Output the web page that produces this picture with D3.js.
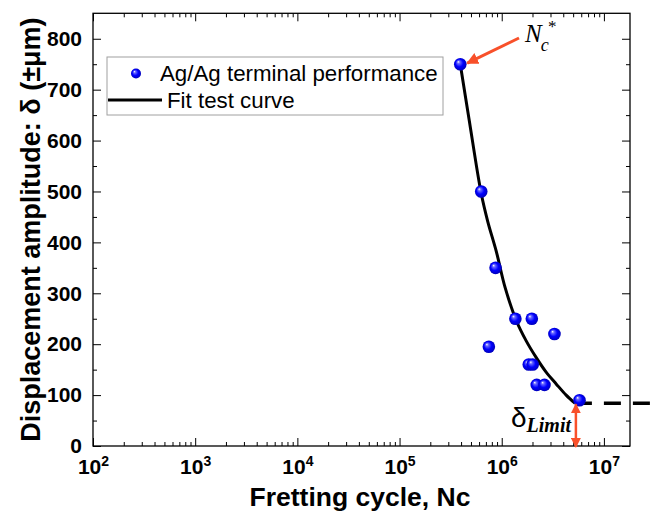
<!DOCTYPE html>
<html><head><meta charset="utf-8">
<script src="https://cdn.jsdelivr.net/npm/d3@7"></script>
<style>body{margin:0;background:#fff}svg{display:block}</style>
</head><body><svg id="c" width="658" height="520"></svg>
<script>
// ---- data ----
const pointCycles = [3.93e5, 6.3e5, 8.7e5, 1.36e6, 1.97e6, 3.28e6, 7.48e5, 1.84e6, 2.01e6, 2.2e6, 2.62e6, 5.77e6];
const pointAmplitudes = [750, 500, 350, 250, 250, 220, 195, 160, 160, 120, 120, 90];
const fitCycles = [3.93e5, 4.78e5, 6.3e5, 7.3e5, 8.83e5, 1.08e6, 1.39e6, 1.73e6, 2.17e6, 2.72e6, 3.41e6, 4.27e6, 5.2e6];
const fitAmplitudes = [750, 643, 496, 441, 383, 311, 246, 207, 174, 145, 122, 100, 84];
const limitAmplitude = 84;
const limitCycle = 5.2e6;
const xMajorTicks = [1e2, 1e3, 1e4, 1e5, 1e6, 1e7];
const xTickExponents = ["2", "3", "4", "5", "6", "7"];
const yMajorTicks = [0, 100, 200, 300, 400, 500, 600, 700, 800];
const yMinorTicks = [50, 150, 250, 350, 450, 550, 650, 750];
const legendLabels = ["Ag/Ag terminal performance", "Fit test curve"];
const xTitle = "Fretting cycle, Nc";
const yTitle = "Displacement amplitude: δ (±μm)";

const svg = d3.select("#c");
const L = 93, R = 630, T = 13.3, B = 446;
const x = d3.scaleLog().domain([100, 1.8e7]).range([L, R]);
const y = d3.scaleLinear().domain([0, 850]).range([B, T]);

const xMinor = [];
for (let d = 2; d <= 7; d++) for (let m = 2; m <= 9; m++) { const v = m * Math.pow(10, d); if (v <= 1.8e7) xMinor.push(v); }

const red = "#f8502a";
const defs = svg.append("defs");
const g = defs.append("radialGradient").attr("id", "ball").attr("cx", "0.5").attr("cy", "0.5").attr("r", "0.55").attr("fx", "0.33").attr("fy", "0.3");
g.append("stop").attr("offset", "0").attr("stop-color", "#ffffff");
g.append("stop").attr("offset", "0.2").attr("stop-color", "#6a6aff");
g.append("stop").attr("offset", "0.55").attr("stop-color", "#0000ff");
g.append("stop").attr("offset", "1").attr("stop-color", "#0000b0");
const mk = defs.append("marker").attr("id", "ah").attr("viewBox", "0 0 10 10").attr("refX", 9).attr("refY", 5)
  .attr("markerWidth", 4).attr("markerHeight", 4).attr("markerUnits", "strokeWidth").attr("orient", "auto-start-reverse");
mk.append("path").attr("d", "M0,0L10,5L0,10z").attr("fill", red);

function styleAxis(sel) {
  sel.selectAll(".domain").remove();
  sel.selectAll("line").attr("stroke", "#000").attr("stroke-width", 1);
  sel.selectAll("text").attr("font-family", "'Liberation Sans', Arial, sans-serif").attr("font-weight", "bold").attr("font-size", 21).attr("fill", "#000");
}

// minor ticks
svg.append("g").attr("transform", `translate(0,${B})`).call(d3.axisBottom(x).tickValues(xMinor).tickSizeInner(-4).tickSizeOuter(0).tickFormat("")).call(styleAxis);
svg.append("g").attr("transform", `translate(0,${T})`).call(d3.axisTop(x).tickValues(xMinor).tickSizeInner(-4).tickSizeOuter(0).tickFormat("")).call(styleAxis);
svg.append("g").attr("transform", `translate(${L},0)`).call(d3.axisLeft(y).tickValues(yMinorTicks).tickSizeInner(-4).tickSizeOuter(0).tickFormat("")).call(styleAxis);
svg.append("g").attr("transform", `translate(${R},0)`).call(d3.axisRight(y).tickValues(yMinorTicks).tickSizeInner(-4).tickSizeOuter(0).tickFormat("")).call(styleAxis);

// major ticks
const xb = svg.append("g").attr("transform", `translate(0,${B})`)
  .call(d3.axisBottom(x).tickValues(xMajorTicks).tickSizeInner(-8).tickSizeOuter(0).tickPadding(13).tickFormat(() => "")).call(styleAxis);
xb.selectAll(".tick text").each(function(d, i) {
  const t = d3.select(this).attr("text-anchor", "middle").attr("dy", "0.71em");
  t.append("tspan").text("10");
  t.append("tspan").attr("font-size", 14).attr("dy", "-0.55em").text(xTickExponents[i]);
});
svg.append("g").attr("transform", `translate(0,${T})`).call(d3.axisTop(x).tickValues(xMajorTicks).tickSizeInner(-8).tickSizeOuter(0).tickFormat("")).call(styleAxis);
svg.append("g").attr("transform", `translate(${L},0)`).call(d3.axisLeft(y).tickValues(yMajorTicks).tickSizeInner(-8).tickSizeOuter(0).tickPadding(11).tickFormat(d3.format("d"))).call(styleAxis);
svg.append("g").attr("transform", `translate(${R},0)`).call(d3.axisRight(y).tickValues(yMajorTicks).tickSizeInner(-8).tickSizeOuter(0).tickFormat("")).call(styleAxis);

// frame
svg.append("rect").attr("x", L).attr("y", T).attr("width", R - L).attr("height", B - T).attr("fill", "none").attr("stroke", "#000").attr("stroke-width", 1.3);

// limit dashed line
svg.append("line").attr("x1", x(limitCycle)).attr("x2", 670).attr("y1", y(limitAmplitude)).attr("y2", y(limitAmplitude))
  .attr("stroke", "#000").attr("stroke-width", 3.5).attr("stroke-dasharray", "17,12");

// fit curve
const fit = fitCycles.map((c, i) => [c, fitAmplitudes[i]]);
svg.append("path").datum(fit).attr("fill", "none").attr("stroke", "#000").attr("stroke-width", 3)
  .attr("d", d3.line().x(d => x(d[0])).y(d => y(d[1])).curve(d3.curveCatmullRom.alpha(0.5)));

// points
svg.append("g").selectAll("circle").data(pointCycles.map((c, i) => [c, pointAmplitudes[i]])).join("circle")
  .attr("cx", d => x(d[0])).attr("cy", d => y(d[1])).attr("r", 6.3).attr("fill", "url(#ball)");

// annotation arrows
svg.append("line").attr("x1", 519).attr("y1", 38).attr("x2", x(pointCycles[0]) + 7).attr("y2", y(pointAmplitudes[0]) - 1)
  .attr("stroke", red).attr("stroke-width", 3).attr("marker-end", "url(#ah)");
svg.append("line").attr("x1", x(limitCycle) + 1).attr("x2", x(limitCycle) + 1).attr("y1", y(limitAmplitude) + 1).attr("y2", B + 1)
  .attr("stroke", red).attr("stroke-width", 2.5).attr("marker-start", "url(#ah)").attr("marker-end", "url(#ah)");

// N_c^* label
const nl = svg.append("text").attr("x", 525).attr("y", 42).attr("font-family", "'Liberation Serif', 'DejaVu Serif', serif").attr("font-style", "italic").attr("font-size", 25).attr("fill", "#000");
nl.append("tspan").text("N");
nl.append("tspan").attr("font-size", 18).attr("dy", 9).attr("dx", -1).text("c");
nl.append("tspan").attr("font-size", 17).attr("x", 548).attr("y", 32).attr("font-style", "normal").text("*");

// δ_Limit label
const dl = svg.append("text").attr("x", 511).attr("y", 427).attr("fill", "#000");
dl.append("tspan").attr("font-family", "'Liberation Sans', Arial, sans-serif").attr("font-size", 28).text("δ");
dl.append("tspan").attr("font-family", "'Liberation Serif', 'DejaVu Serif', serif").attr("font-style", "italic").attr("font-weight", "bold").attr("font-size", 20).attr("dy", 5).text("Limit");

// legend
svg.append("rect").attr("x", 107).attr("y", 57).attr("width", 336).attr("height", 58).attr("fill", "#fff").attr("stroke", "#a0a0a0").attr("stroke-width", 1);
svg.append("circle").attr("cx", 136).attr("cy", 73.5).attr("r", 5).attr("fill", "url(#ball)");
svg.append("line").attr("x1", 108).attr("x2", 162).attr("y1", 100).attr("y2", 100).attr("stroke", "#000").attr("stroke-width", 3);
const lf = "'Liberation Sans', Arial, sans-serif";
svg.append("text").attr("x", 160).attr("y", 80.5).attr("font-family", lf).attr("font-size", 22.3).text(legendLabels[0]);
svg.append("text").attr("x", 167).attr("y", 108).attr("font-family", lf).attr("font-size", 22.3).text(legendLabels[1]);

// axis titles
svg.append("text").attr("x", 360).attr("y", 506).attr("text-anchor", "middle").attr("font-family", lf).attr("font-weight", "bold").attr("font-size", 26.5).text(xTitle);
svg.append("text").attr("transform", `translate(40,${(T + B) / 2}) rotate(-90)`).attr("text-anchor", "middle").attr("font-family", lf).attr("font-weight", "bold").attr("font-size", 27).text(yTitle);
</script></body></html>
